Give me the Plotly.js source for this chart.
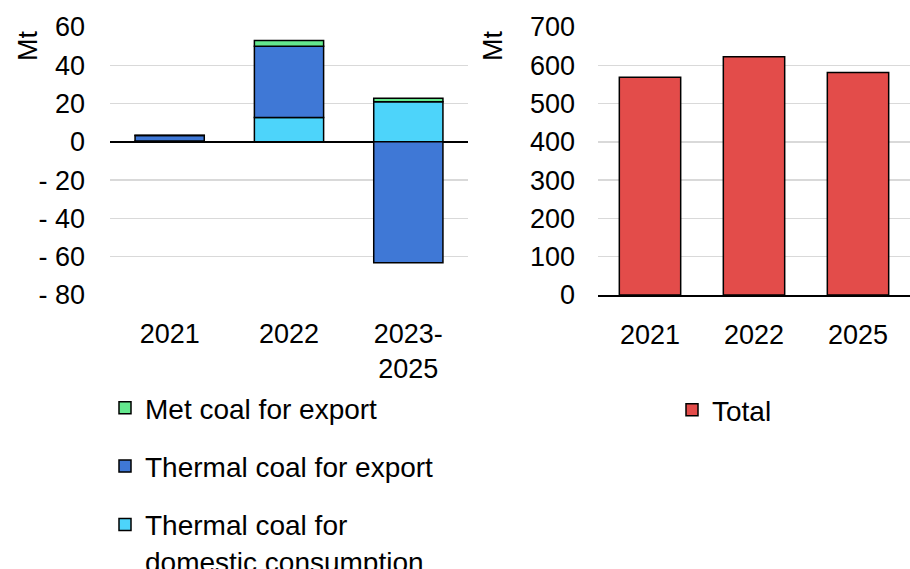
<!DOCTYPE html>
<html><head><meta charset="utf-8">
<script src="https://cdn.plot.ly/plotly-3.0.1.min.js"></script>
<style>html,body{margin:0;padding:0;background:#fff}#c{width:910px;height:569px}</style>
</head><body><div id="c"></div>
<script>
const leftCats = ["2021", "2022", "2023-<br>2025"];
const thermalDomestic = [0.5, 12.7, 21.0];
const thermalExport = [2.8, 37.3, -63.2];
const metExport = [0.2, 3.0, 1.8];
const rightCats = ["2021", "2022", "2025"];
const totalVals = [569, 622, 581];
const leftTickVals = [-80, -60, -40, -20, 0, 20, 40, 60];
const leftTickText = ["- 80", "- 60", "- 40", "- 20", "0", "20", "40", "60"];
const rightTickVals = [0, 100, 200, 300, 400, 500, 600, 700];

const W = 910, H = 569;
const FONT = "Liberation Sans, Arial, sans-serif";
const ln = {color: "#000", width: 1.5};

const traces = [
  {type: "bar", name: "Thermal coal for<br>domestic consumption", x: leftCats, y: thermalDomestic,
   marker: {color: "#4DD4FA", line: ln}, width: 0.58, xaxis: "x", yaxis: "y", legend: "legend",
   legendgroup: "a", legendrank: 3},
  {type: "bar", name: "Thermal coal for export", x: leftCats, y: thermalExport,
   marker: {color: "#3F78D6", line: ln}, width: 0.58, xaxis: "x", yaxis: "y", legend: "legend",
   legendgroup: "b", legendrank: 2},
  {type: "bar", name: "Met coal for export", x: leftCats, y: metExport,
   marker: {color: "#64E88E", line: ln}, width: 0.58, xaxis: "x", yaxis: "y", legend: "legend",
   legendgroup: "c", legendrank: 1},
  {type: "bar", name: "Total", x: rightCats, y: totalVals,
   marker: {color: "#E34C4A", line: ln}, width: 0.59, xaxis: "x2", yaxis: "y2", legend: "legend2"}
];

const yTop = 27, yBot = 295;
const ydom = [(H - yBot) / H, (H - yTop) / H];
const tickFont = {family: FONT, size: 27, color: "#000"};
const legFont = {family: FONT, size: 28, color: "#000"};

const layout = {
  width: W, height: H,
  margin: {l: 0, r: 0, t: 0, b: 0, autoexpand: false},
  paper_bgcolor: "#fff", plot_bgcolor: "#fff",
  barmode: "relative",
  font: {family: FONT, size: 27, color: "#000"},
  xaxis: {domain: [110 / W, 468 / W], type: "category", tickfont: tickFont, showgrid: false,
          showline: false, zeroline: false, ticks: "", ticklabelstandoff: 20, fixedrange: true},
  yaxis: {domain: ydom, range: [-80, 60], tickvals: leftTickVals, ticktext: leftTickText,
          tickfont: tickFont, gridcolor: "#D9D9D9", gridwidth: 1.5, zeroline: true,
          zerolinecolor: "#000", zerolinewidth: 1.5, showline: false, ticks: "", ticklabelstandoff: 24},
  xaxis2: {domain: [598 / W, 1], type: "category", tickfont: tickFont, showgrid: false,
           showline: true, linecolor: "#000", linewidth: 1.5, zeroline: false, ticks: "",
           ticklabelstandoff: 15, anchor: "y2"},
  yaxis2: {domain: ydom, range: [0, 700], tickvals: rightTickVals, tickfont: tickFont,
           gridcolor: "#D9D9D9", gridwidth: 1.5, zeroline: false, showline: false, ticks: "",
           ticklabelstandoff: 22, anchor: "x2"},
  legend: {x: 105 / W, y: (H - 383) / H, xanchor: "left", yanchor: "top", orientation: "v",
           traceorder: "grouped", tracegroupgap: 19, font: legFont, valign: "top",
           bgcolor: "rgba(0,0,0,0)", itemwidth: 30},
  legend2: {x: 672 / W, y: (H - 385) / H, xanchor: "left", yanchor: "top", orientation: "v",
            font: legFont, bgcolor: "rgba(0,0,0,0)", itemwidth: 30},
  annotations: [
    {text: "Mt", x: 28, y: 46, showarrow: false, textangle: -90, font: tickFont},
    {text: "Mt", x: 493, y: 46, showarrow: false, textangle: -90, font: tickFont}
  ].map(a => Object.assign(a, {xref: "paper", yref: "paper", x: a.x / W, y: (H - a.y) / H,
                                xanchor: "center", yanchor: "middle"})),
  showlegend: true
};

Plotly.newPlot("c", traces, layout, {displayModeBar: false, staticPlot: true});
</script></body></html>
